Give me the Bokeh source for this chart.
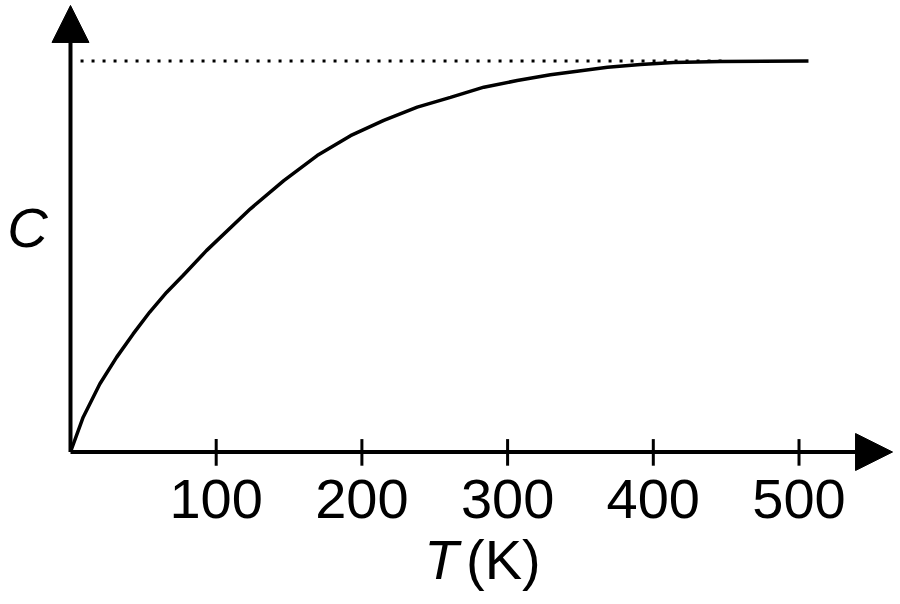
"""Heat capacity C rising with temperature T toward a plateau."""
from bokeh.plotting import figure
from bokeh.models import Arrow, NormalHead
from bokeh.core.properties import value
from bokeh.embed import file_html
from bokeh.resources import INLINE

# curve (T in K, C relative to the plateau)
temps = [0, 8.7, 20.1, 31.6, 43.0, 54.4, 65.9, 77.4, 93.3, 123.5, 146.4, 169.3,
         192.2, 215.0, 238.0, 260.8, 283.7, 306.6, 329.4, 368.6, 391.2, 413.9,
         446.1, 506.5]
heat = [0, 0.089, 0.174, 0.242, 0.302, 0.358, 0.408, 0.452, 0.515, 0.622, 0.694,
        0.758, 0.809, 0.848, 0.882, 0.907, 0.933, 0.950, 0.965, 0.984, 0.991,
        0.996, 0.999, 1.0]
plateau_x = [6.9, 450]
plateau_y = [1.0, 1.0]
tick_values = [100, 200, 300, 400, 500]
tick_labels = ["100", "200", "300", "400", "500"]

X_TIP = 564.2
Y_TIP = 1.142
TICK = 0.033
FONT = value("Liberation Sans")

p = figure(width=900, height=604, x_range=(-48.04, 569.66), y_range=(-0.390, 1.1547),
           output_backend="svg", toolbar_location=None,
           x_axis_location=None, y_axis_location=None,
           min_border_left=0, min_border_right=0, min_border_top=0,
           min_border_bottom=0)
p.outline_line_color = None
p.grid.visible = False

# axes drawn as arrows
p.add_layout(Arrow(end=NormalHead(size=37, fill_color="black", line_color="black",
                                  line_width=1),
                   x_start=0, y_start=0, x_end=0, y_end=Y_TIP,
                   line_width=4, line_color="black"))
p.add_layout(Arrow(end=NormalHead(size=37, fill_color="black", line_color="black",
                                  line_width=1),
                   x_start=0, y_start=0, x_end=X_TIP, y_end=0,
                   line_width=4, line_color="black"))

# tick marks crossing the T axis and their labels
p.segment(x0=tick_values, y0=[TICK] * 5, x1=tick_values, y1=[-TICK - 0.002] * 5,
          line_color="black", line_width=3)
p.text(x=tick_values, y=[-0.120] * 5, text=tick_labels, text_font=FONT,
       text_font_size="56px", text_align="center", text_baseline="middle",
       text_color="black")

p.line(plateau_x, plateau_y, line_color="black", line_width=3, line_dash="3 8")
p.line(temps, heat, line_color="black", line_width=3.5)

p.text(x=[-29.5], y=[0.574], text=["C"], text_font=FONT, text_font_size="56px",
       text_font_style="italic", text_align="center", text_baseline="middle")
p.text(x=[254.5], y=[-0.276], text=["T"], text_font=FONT, text_font_size="56px",
       text_font_style="italic", text_align="center", text_baseline="middle")
p.text(x=[271.5], y=[-0.276], text=["(K)"], text_font=FONT, text_font_size="56px",
       text_align="left", text_baseline="middle")

open("out.html", "w").write(file_html(p, INLINE))
